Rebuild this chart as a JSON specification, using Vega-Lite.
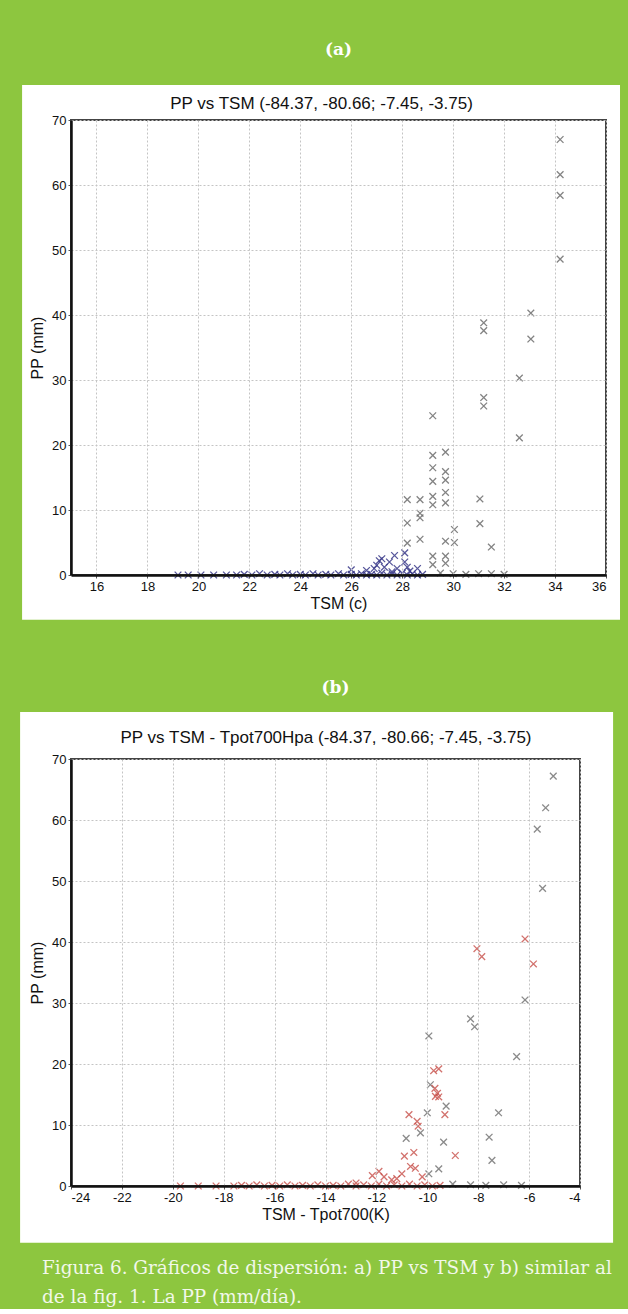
{
  "$schema": "https://vega.github.io/schema/vega-lite/v6.json",
  "background": "#8dc63f",
  "padding": {"left": 20, "top": 40, "right": 8, "bottom": 2},
  "autosize": {"type": "pad"},
  "bounds": "flush",
  "spacing": 184,
  "title": {
    "text": ["Figura 6. Gráficos de dispersión: a) PP vs TSM y b) similar al", "de la fig. 1. La PP (mm/día)."],
    "orient": "bottom", "anchor": "start", "frame": "bounds", "dx": 22, "offset": 16,
    "font": "DejaVu Serif", "fontSize": 18.4, "fontWeight": "normal", "color": "#f2f8ea", "lineHeight": 29
  },
  "config": {
    "view": {"stroke": null},
    "axis": {
      "labelFont": "Liberation Sans, Arial, sans-serif",
      "labelFontSize": 13, "labelColor": "#111",
      "titleFont": "Liberation Sans, Arial, sans-serif",
      "titleFontSize": 16, "titleFontWeight": "normal", "titleColor": "#111",
      "gridColor": "#c4c4c4", "gridDash": [2, 2], "gridWidth": 1, "gridOpacity": 1,
      "domainColor": "#111", "domainWidth": 2.5,
      "tickColor": "#555", "tickSize": 3, "labelPadding": 2
    }
  },
  "vconcat": [
    {
      "width": 535, "height": 455,
      "title": {"text": "(a)", "anchor": "middle", "frame": "group", "font": "DejaVu Serif", "fontSize": 17, "fontWeight": "bold", "color": "white", "offset": 26},
      "resolve": {"axis": {"x": "independent"}},
      "layer": [
        {
          "data": {"values": [{}]},
          "mark": {"type": "rect", "fill": "white"},
          "encoding": {
            "x": {"datum": 13.08, "type": "quantitative", "scale": {"domain": [15, 36], "nice": false, "zero": false},
                  "axis": {"orient": "top", "title": "PP vs TSM (-84.37, -80.66; -7.45, -3.75)", "titleFontSize": 17, "labels": false, "ticks": false, "domain": false, "grid": false, "titlePadding": 8, "titleX": 250, "zindex": 1}},
            "x2": {"datum": 36.55},
            "y": {"datum": 75.4, "type": "quantitative", "scale": {"domain": [0, 70], "nice": false}},
            "y2": {"datum": -6.9}
          }
        },
        {
          "data": {"values": [
            {"TSM": 34.2, "PP": 67.0, "g": "gris"}, {"TSM": 34.2, "PP": 61.6, "g": "gris"}, {"TSM": 34.2, "PP": 58.4, "g": "gris"}, {"TSM": 34.2, "PP": 48.6, "g": "gris"},
            {"TSM": 33.05, "PP": 40.3, "g": "gris"}, {"TSM": 33.05, "PP": 36.3, "g": "gris"},
            {"TSM": 31.2, "PP": 38.8, "g": "gris"}, {"TSM": 31.2, "PP": 37.6, "g": "gris"}, {"TSM": 31.2, "PP": 27.3, "g": "gris"}, {"TSM": 31.2, "PP": 26.0, "g": "gris"},
            {"TSM": 32.6, "PP": 30.3, "g": "gris"}, {"TSM": 32.6, "PP": 21.1, "g": "gris"},
            {"TSM": 29.2, "PP": 24.5, "g": "gris"}, {"TSM": 29.2, "PP": 18.4, "g": "gris"}, {"TSM": 29.2, "PP": 16.5, "g": "gris"}, {"TSM": 29.2, "PP": 14.4, "g": "gris"}, {"TSM": 29.2, "PP": 12.1, "g": "gris"}, {"TSM": 29.2, "PP": 10.8, "g": "gris"}, {"TSM": 29.2, "PP": 2.9, "g": "gris"}, {"TSM": 29.2, "PP": 1.6, "g": "gris"},
            {"TSM": 29.7, "PP": 18.9, "g": "gris"}, {"TSM": 29.7, "PP": 15.9, "g": "gris"}, {"TSM": 29.7, "PP": 14.6, "g": "gris"}, {"TSM": 29.7, "PP": 12.7, "g": "gris"}, {"TSM": 29.7, "PP": 11.1, "g": "gris"}, {"TSM": 29.7, "PP": 5.2, "g": "gris"}, {"TSM": 29.7, "PP": 2.9, "g": "gris"}, {"TSM": 29.7, "PP": 1.8, "g": "gris"},
            {"TSM": 28.2, "PP": 11.6, "g": "gris"}, {"TSM": 28.2, "PP": 8.0, "g": "gris"}, {"TSM": 28.2, "PP": 4.9, "g": "gris"},
            {"TSM": 28.7, "PP": 11.6, "g": "gris"}, {"TSM": 28.7, "PP": 9.5, "g": "gris"}, {"TSM": 28.7, "PP": 8.8, "g": "gris"}, {"TSM": 28.7, "PP": 5.5, "g": "gris"},
            {"TSM": 31.05, "PP": 11.7, "g": "gris"}, {"TSM": 31.05, "PP": 7.9, "g": "gris"},
            {"TSM": 30.05, "PP": 7.0, "g": "gris"}, {"TSM": 30.05, "PP": 5.0, "g": "gris"}, {"TSM": 31.5, "PP": 4.3, "g": "gris"},
            {"TSM": 29.5, "PP": 0.3, "g": "gris"}, {"TSM": 30.0, "PP": 0.2, "g": "gris"}, {"TSM": 30.5, "PP": 0.1, "g": "gris"}, {"TSM": 31.0, "PP": 0.2, "g": "gris"}, {"TSM": 31.5, "PP": 0.2, "g": "gris"}, {"TSM": 32.0, "PP": 0.1, "g": "gris"},
            {"TSM": 26.0, "PP": 0.8, "g": "azul"}, {"TSM": 26.6, "PP": 0.7, "g": "azul"}, {"TSM": 26.9, "PP": 1.0, "g": "azul"}, {"TSM": 27.0, "PP": 1.5, "g": "azul"}, {"TSM": 27.1, "PP": 2.2, "g": "azul"}, {"TSM": 27.2, "PP": 2.5, "g": "azul"}, {"TSM": 27.3, "PP": 1.2, "g": "azul"}, {"TSM": 27.5, "PP": 2.0, "g": "azul"}, {"TSM": 27.7, "PP": 3.0, "g": "azul"}, {"TSM": 27.8, "PP": 1.0, "g": "azul"}, {"TSM": 28.1, "PP": 3.4, "g": "azul"}, {"TSM": 28.1, "PP": 2.0, "g": "azul"}, {"TSM": 28.2, "PP": 1.2, "g": "azul"}, {"TSM": 28.3, "PP": 0.6, "g": "azul"}, {"TSM": 28.6, "PP": 1.0, "g": "azul"}, {"TSM": 27.6, "PP": 0.5, "g": "azul"},
            {"TSM": 19.2, "PP": 0.0, "g": "azul"}, {"TSM": 19.6, "PP": 0.0, "g": "azul"}, {"TSM": 20.1, "PP": 0.0, "g": "azul"}, {"TSM": 20.6, "PP": 0.0, "g": "azul"}, {"TSM": 21.1, "PP": 0.0, "g": "azul"}, {"TSM": 21.5, "PP": 0.0, "g": "azul"}, {"TSM": 21.8, "PP": 0.1, "g": "azul"}, {"TSM": 22.1, "PP": 0.0, "g": "azul"}, {"TSM": 22.4, "PP": 0.2, "g": "azul"}, {"TSM": 22.7, "PP": 0.0, "g": "azul"}, {"TSM": 23.0, "PP": 0.1, "g": "azul"}, {"TSM": 23.2, "PP": 0.0, "g": "azul"}, {"TSM": 23.5, "PP": 0.2, "g": "azul"}, {"TSM": 23.7, "PP": 0.0, "g": "azul"}, {"TSM": 24.0, "PP": 0.1, "g": "azul"}, {"TSM": 24.2, "PP": 0.0, "g": "azul"}, {"TSM": 24.5, "PP": 0.2, "g": "azul"}, {"TSM": 24.7, "PP": 0.0, "g": "azul"}, {"TSM": 25.0, "PP": 0.1, "g": "azul"}, {"TSM": 25.2, "PP": 0.0, "g": "azul"}, {"TSM": 25.5, "PP": 0.2, "g": "azul"}, {"TSM": 25.7, "PP": 0.0, "g": "azul"}, {"TSM": 26.0, "PP": 0.1, "g": "azul"}, {"TSM": 26.2, "PP": 0.0, "g": "azul"}, {"TSM": 26.4, "PP": 0.2, "g": "azul"}, {"TSM": 26.6, "PP": 0.0, "g": "azul"}, {"TSM": 26.8, "PP": 0.1, "g": "azul"}, {"TSM": 27.0, "PP": 0.0, "g": "azul"}, {"TSM": 27.2, "PP": 0.3, "g": "azul"}, {"TSM": 27.4, "PP": 0.0, "g": "azul"}, {"TSM": 27.6, "PP": 0.2, "g": "azul"}, {"TSM": 27.8, "PP": 0.0, "g": "azul"}, {"TSM": 28.0, "PP": 0.3, "g": "azul"}, {"TSM": 28.2, "PP": 0.0, "g": "azul"}, {"TSM": 28.4, "PP": 0.2, "g": "azul"}, {"TSM": 28.6, "PP": 0.0, "g": "azul"}, {"TSM": 28.8, "PP": 0.1, "g": "azul"}
          ]},
          "mark": {"type": "point", "shape": "M-1,-1L1,1M-1,1L1,-1", "filled": false, "size": 45, "strokeWidth": 1.3, "opacity": 0.85},
          "encoding": {
            "x": {"field": "TSM", "type": "quantitative",
                  "axis": {"title": "TSM (c)", "values": [16, 18, 20, 22, 24, 26, 28, 30, 32, 34, 36], "labelExpr": "'' + datum.value", "grid": true, "titlePadding": 2, "zindex": 1}},
            "y": {"field": "PP", "type": "quantitative",
                  "axis": {"title": "PP (mm)", "tickCount": 14, "values": [0, 5, 10, 15, 20, 25, 30, 35, 40, 45, 50, 55, 60, 65, 70], "labelOverlap": false, "grid": true, "titlePadding": 6, "zindex": 1}},
            "color": {"field": "g", "type": "nominal", "scale": {"domain": ["gris", "azul", "rojo"], "range": ["#6e6e6e", "#3a3a8a", "#c8504a"]}, "legend": null}
          }
        },
        {
          "data": {"values": [{}]},
          "mark": {"type": "rect", "fill": "transparent", "stroke": "#444", "strokeWidth": 2},
          "encoding": {
            "x": {"datum": 15, "type": "quantitative", "axis": null},
            "x2": {"datum": 36},
            "y": {"datum": 0, "type": "quantitative"},
            "y2": {"datum": 70}
          }
        }
      ]
    },
    {
      "width": 509, "height": 427,
      "title": {"text": "(b)", "anchor": "middle", "frame": "group", "font": "DejaVu Serif", "fontSize": 17, "fontWeight": "bold", "color": "white", "offset": 15, "dx": 10},
      "resolve": {"axis": {"x": "independent"}},
      "layer": [
        {
          "data": {"values": [{}]},
          "mark": {"type": "rect", "fill": "white"},
          "encoding": {
            "x": {"datum": -26.0, "type": "quantitative", "scale": {"domain": [-24, -4], "nice": false, "zero": false},
                  "axis": {"orient": "top", "title": "PP vs TSM - Tpot700Hpa (-84.37, -80.66; -7.45, -3.75)", "titleFontSize": 17, "labels": false, "ticks": false, "domain": false, "grid": false, "titlePadding": 13, "zindex": 1}},
            "x2": {"datum": -2.7},
            "y": {"datum": 77.7, "type": "quantitative", "scale": {"domain": [0, 70], "nice": false}},
            "y2": {"datum": -9.3}
          }
        },
        {
          "data": {"values": [
            {"K": -5.05, "PP": 67.2, "g": "gris"}, {"K": -5.35, "PP": 62.0, "g": "gris"}, {"K": -5.68, "PP": 58.5, "g": "gris"}, {"K": -5.47, "PP": 48.8, "g": "gris"},
            {"K": -6.16, "PP": 30.5, "g": "gris"}, {"K": -8.3, "PP": 27.4, "g": "gris"}, {"K": -8.14, "PP": 26.1, "g": "gris"}, {"K": -9.94, "PP": 24.6, "g": "gris"}, {"K": -6.49, "PP": 21.2, "g": "gris"},
            {"K": -9.88, "PP": 16.6, "g": "gris"}, {"K": -9.26, "PP": 13.1, "g": "gris"}, {"K": -7.2, "PP": 12.0, "g": "gris"}, {"K": -10.0, "PP": 12.0, "g": "gris"}, {"K": -10.27, "PP": 8.7, "g": "gris"}, {"K": -10.83, "PP": 7.8, "g": "gris"}, {"K": -7.57, "PP": 8.0, "g": "gris"}, {"K": -9.36, "PP": 7.2, "g": "gris"}, {"K": -7.46, "PP": 4.2, "g": "gris"}, {"K": -9.55, "PP": 2.8, "g": "gris"}, {"K": -9.94, "PP": 2.0, "g": "gris"},
            {"K": -9.0, "PP": 0.3, "g": "gris"}, {"K": -8.3, "PP": 0.2, "g": "gris"}, {"K": -7.7, "PP": 0.1, "g": "gris"}, {"K": -7.0, "PP": 0.2, "g": "gris"}, {"K": -6.3, "PP": 0.1, "g": "gris"},
            {"K": -6.16, "PP": 40.5, "g": "rojo"}, {"K": -8.05, "PP": 38.9, "g": "rojo"}, {"K": -7.86, "PP": 37.6, "g": "rojo"}, {"K": -5.83, "PP": 36.4, "g": "rojo"},
            {"K": -9.75, "PP": 18.9, "g": "rojo"}, {"K": -9.55, "PP": 19.2, "g": "rojo"}, {"K": -9.7, "PP": 16.0, "g": "rojo"}, {"K": -9.6, "PP": 15.2, "g": "rojo"}, {"K": -9.68, "PP": 14.7, "g": "rojo"}, {"K": -9.55, "PP": 14.6, "g": "rojo"}, {"K": -9.31, "PP": 11.7, "g": "rojo"}, {"K": -10.72, "PP": 11.7, "g": "rojo"}, {"K": -10.4, "PP": 10.6, "g": "rojo"}, {"K": -10.36, "PP": 9.8, "g": "rojo"},
            {"K": -8.9, "PP": 5.0, "g": "rojo"}, {"K": -10.53, "PP": 5.5, "g": "rojo"}, {"K": -10.9, "PP": 4.9, "g": "rojo"}, {"K": -10.66, "PP": 3.2, "g": "rojo"}, {"K": -10.47, "PP": 2.9, "g": "rojo"}, {"K": -11.9, "PP": 2.4, "g": "rojo"}, {"K": -12.16, "PP": 1.7, "g": "rojo"}, {"K": -11.4, "PP": 1.0, "g": "rojo"}, {"K": -11.2, "PP": 1.2, "g": "rojo"}, {"K": -12.8, "PP": 0.5, "g": "rojo"}, {"K": -11.7, "PP": 1.5, "g": "rojo"}, {"K": -11.0, "PP": 2.0, "g": "rojo"}, {"K": -10.2, "PP": 1.5, "g": "rojo"},
            {"K": -19.7, "PP": 0.0, "g": "rojo"}, {"K": -19.0, "PP": 0.0, "g": "rojo"}, {"K": -18.3, "PP": 0.0, "g": "rojo"}, {"K": -17.6, "PP": 0.0, "g": "rojo"}, {"K": -17.3, "PP": 0.1, "g": "rojo"}, {"K": -17.0, "PP": 0.0, "g": "rojo"}, {"K": -16.7, "PP": 0.2, "g": "rojo"}, {"K": -16.4, "PP": 0.0, "g": "rojo"}, {"K": -16.1, "PP": 0.1, "g": "rojo"}, {"K": -15.8, "PP": 0.0, "g": "rojo"}, {"K": -15.5, "PP": 0.2, "g": "rojo"}, {"K": -15.2, "PP": 0.0, "g": "rojo"}, {"K": -14.9, "PP": 0.1, "g": "rojo"}, {"K": -14.6, "PP": 0.0, "g": "rojo"}, {"K": -14.3, "PP": 0.2, "g": "rojo"}, {"K": -14.0, "PP": 0.0, "g": "rojo"}, {"K": -13.7, "PP": 0.1, "g": "rojo"}, {"K": -13.4, "PP": 0.0, "g": "rojo"}, {"K": -13.1, "PP": 0.3, "g": "rojo"}, {"K": -12.8, "PP": 0.0, "g": "rojo"}, {"K": -12.5, "PP": 0.2, "g": "rojo"}, {"K": -12.2, "PP": 0.0, "g": "rojo"}, {"K": -11.9, "PP": 0.3, "g": "rojo"}, {"K": -11.6, "PP": 0.0, "g": "rojo"}, {"K": -11.3, "PP": 0.2, "g": "rojo"}, {"K": -11.0, "PP": 0.0, "g": "rojo"}, {"K": -10.7, "PP": 0.3, "g": "rojo"}, {"K": -10.4, "PP": 0.0, "g": "rojo"}, {"K": -10.1, "PP": 0.2, "g": "rojo"}, {"K": -9.8, "PP": 0.0, "g": "rojo"}, {"K": -9.5, "PP": 0.1, "g": "rojo"}
          ]},
          "mark": {"type": "point", "shape": "M-1,-1L1,1M-1,1L1,-1", "filled": false, "size": 45, "strokeWidth": 1.3, "opacity": 0.8},
          "encoding": {
            "x": {"field": "K", "type": "quantitative",
                  "axis": {"title": "TSM - Tpot700(K)", "values": [-24, -22, -20, -18, -16, -14, -12, -10, -8, -6, -4], "labelExpr": "'' + datum.value", "grid": true, "titlePadding": 2, "zindex": 1}},
            "y": {"field": "PP", "type": "quantitative",
                  "axis": {"title": "PP (mm)", "tickCount": 14, "values": [0, 5, 10, 15, 20, 25, 30, 35, 40, 45, 50, 55, 60, 65, 70], "labelOverlap": false, "grid": true, "titlePadding": 6, "zindex": 1}},
            "color": {"field": "g", "type": "nominal", "scale": {"domain": ["gris", "azul", "rojo"], "range": ["#6e6e6e", "#3a3a8a", "#c8504a"]}, "legend": null}
          }
        },
        {
          "data": {"values": [{}]},
          "mark": {"type": "rect", "fill": "transparent", "stroke": "#444", "strokeWidth": 2},
          "encoding": {
            "x": {"datum": -24, "type": "quantitative", "axis": null},
            "x2": {"datum": -4},
            "y": {"datum": 0, "type": "quantitative"},
            "y2": {"datum": 70}
          }
        }
      ]
    }
  ]
}
